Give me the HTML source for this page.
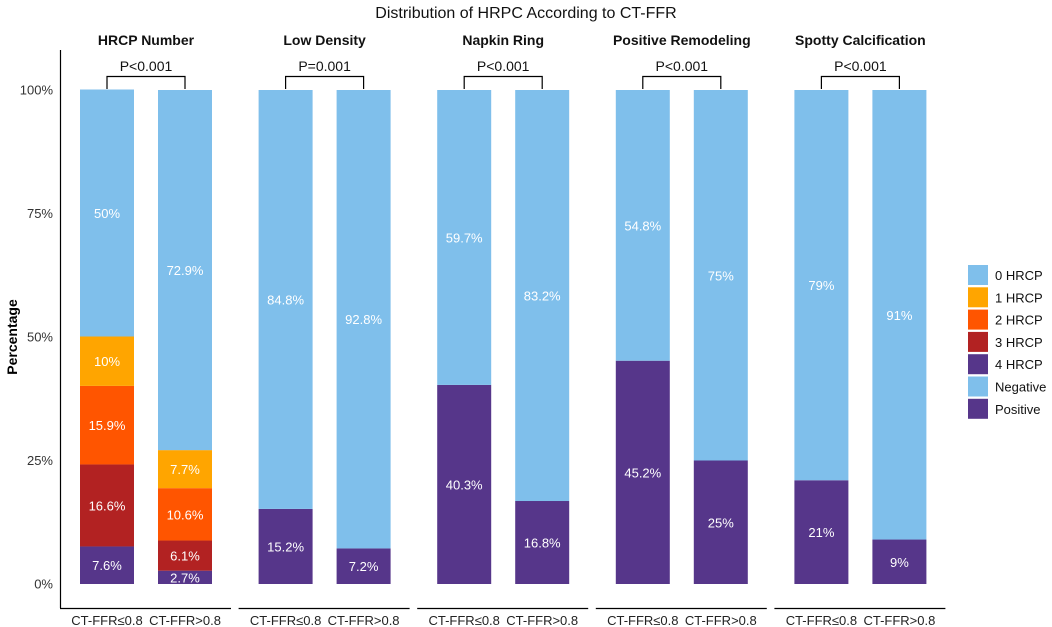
<!DOCTYPE html>
<html><head><meta charset="utf-8"><style>
html,body{margin:0;padding:0;background:#fff;}
svg{display:block;font-family:"Liberation Sans",Arial,sans-serif;}
</style></head><body>
<svg id="chart" width="1052" height="627" viewBox="0 0 1052 627">
<text x="526" y="18" text-anchor="middle" font-size="16" fill="#111">Distribution of HRPC According to CT-FFR</text>
<text transform="translate(17,337) rotate(-90)" text-anchor="middle" font-size="14" font-weight="bold" fill="#000">Percentage</text>
<line x1="60.5" y1="50" x2="60.5" y2="608" stroke="#000" stroke-width="1.2"/>
<g id="plot"></g>
<g id="legend"></g>
</svg>
<script>
const panels = ["HRCP Number","Low Density","Napkin Ring","Positive Remodeling","Spotty Calcification"];
const pvalues = ["P<0.001","P=0.001","P<0.001","P<0.001","P<0.001"];
const groups = ["CT-FFR≤0.8","CT-FFR>0.8"];
const yTicks = [0,25,50,75,100];
// stacks from bottom
const hrcpCats = ["4 HRCP","3 HRCP","2 HRCP","1 HRCP","0 HRCP"];
const hrcpLow = [7.6,16.6,15.9,10,50];
const hrcpHigh = [2.7,6.1,10.6,7.7,72.9];
const binCats = ["Positive","Negative"];
const lowDensityLow = [15.2,84.8];
const lowDensityHigh = [7.2,92.8];
const napkinLow = [40.3,59.7];
const napkinHigh = [16.8,83.2];
const remodelLow = [45.2,54.8];
const remodelHigh = [25,75];
const spottyLow = [21,79];
const spottyHigh = [9,91];
const legendItems = ["0 HRCP","1 HRCP","2 HRCP","3 HRCP","4 HRCP","Negative","Positive"];
const colors = {"0 HRCP":"#7fbfeb","1 HRCP":"#ffa500","2 HRCP":"#ff5500","3 HRCP":"#b22222","4 HRCP":"#56368a","Negative":"#7fbfeb","Positive":"#56368a"};

const NS="http://www.w3.org/2000/svg";
const plot=document.getElementById('plot');
const y0=584, y100=90;
function yScale(v){return y0-(y0-y100)*v/100;}
function panelX(k){return 60+178.6*k;}
function mk(tag,attrs,parent){const e=document.createElementNS(NS,tag);for(const a in attrs)e.setAttribute(a,attrs[a]);parent.appendChild(e);return e;}

yTicks.forEach(t=>{
  const tx=mk('text',{x:53,y:yScale(t)+4.5,'text-anchor':'end','font-size':13,fill:'#333'},plot);
  tx.textContent=t+'%';
  
  
});

const data=[[hrcpCats,hrcpLow,hrcpHigh],[binCats,lowDensityLow,lowDensityHigh],[binCats,napkinLow,napkinHigh],[binCats,remodelLow,remodelHigh],[binCats,spottyLow,spottyHigh]];
const bw=54;
data.forEach((d,k)=>{
  const x0=panelX(k);
  const g=mk('g',{},plot);
  
  
  const ft=mk('text',{x:x0+86,y:45,'text-anchor':'middle','font-size':14,'font-weight':'bold',fill:'#111'},g);
  ft.textContent=panels[k];
  
  
  const al=mk('line',{x1:x0,y1:608.5,x2:x0+171,y2:608.5,stroke:'#000','stroke-width':1.2},g);
  
  
  const cats=d[0];
  [d[1],d[2]].forEach((vals,j)=>{
    const bx=x0+20+78*j;
    let cum=0;
    vals.forEach((v,i)=>{
      const top=yScale(cum+v), bot=yScale(cum);
      const r=mk('rect',{x:bx,y:top,width:bw,height:bot-top,fill:colors[cats[i]]},g);
      
      
      const lt=mk('text',{x:bx+bw/2,y:(top+bot)/2+5,'text-anchor':'middle','font-size':13,fill:'#fff'},g);
      lt.textContent=v+'%';
      
      
      cum+=v;
    });
    const xl=mk('text',{x:bx+bw/2,y:625,'text-anchor':'middle','font-size':13,fill:'#222'},g);
    xl.textContent=groups[j];
    
    
  });
  const c1=x0+47,c2=x0+125;
  const br=mk('path',{d:`M${c1},89 V76.5 H${c2} V89`,fill:'none',stroke:'#000','stroke-width':1.2},g);
  
  
  const pt=mk('text',{x:(c1+c2)/2,y:71,'text-anchor':'middle','font-size':14,fill:'#111'},g);
  pt.textContent=pvalues[k];
  
  
});

const lg=document.getElementById('legend');


legendItems.forEach((it,i)=>{
  const y=265+i*22.3;
  const r=mk('rect',{x:968,y:y,width:20,height:20,fill:colors[it]},lg);
  
  
  const t=mk('text',{x:995,y:y+15,'font-size':13,fill:'#111'},lg);
  t.textContent=it;
  
  
});
</script>
</body></html>
